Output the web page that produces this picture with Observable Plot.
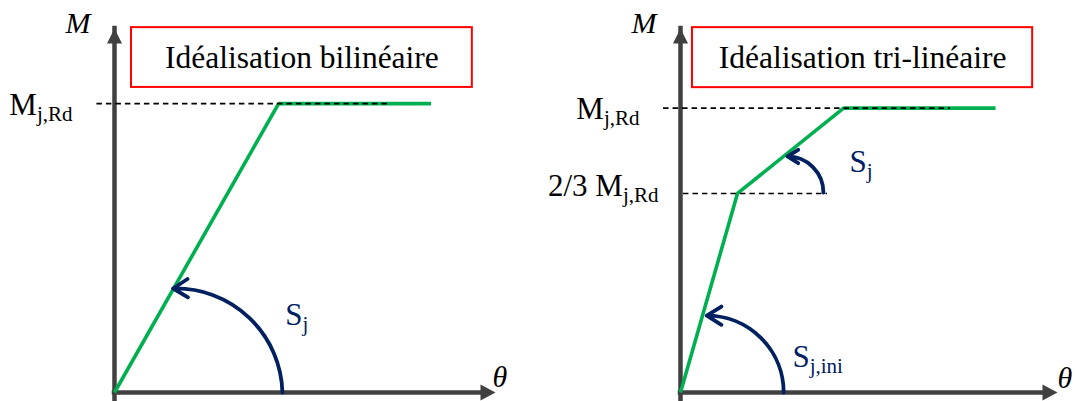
<!DOCTYPE html>
<html><head><meta charset="utf-8">
<script src="https://cdn.jsdelivr.net/npm/d3@7"></script>
<script src="https://cdn.jsdelivr.net/npm/@observablehq/plot@0.6"></script>
<style>
html,body{margin:0;padding:0;background:#fff;}
#chart{position:relative;width:1075px;height:401px;overflow:hidden;background:#fff;}
#chart svg{position:absolute;top:0;overflow:visible;}
#chart svg text{font-family:"Liberation Serif","Times New Roman",Times,serif !important;}
</style></head><body><div id="chart"></div>
<script>
// ---------------- data ----------------
const panelTitles = ["Idéalisation bilinéaire", "Idéalisation tri-linéaire"];
const axisNameY = "M";
const axisNameX = "θ";

// bilinear idealisation (θ, M / Mj,Rd)
const biTheta  = [0, 0.56, 1.08];
const biMoment = [0, 1, 1];

// tri-linear idealisation
const triTheta  = [0, 0.195, 0.558, 1.078];
const triMoment = [0, 0.70, 1, 1];

// dashed reference levels
const biLevelMoment = [1];
const biLevelFrom   = [-0.06];
const biLevelTo     = [0.935];
const biLevelMain   = ["M"];
const biLevelSub    = ["j,Rd"];

const triLevelMoment = [1, 0.70];
const triLevelFrom   = [-0.058, 0.01];
const triLevelTo     = [0.924, 0.503];
const triLevelMain   = ["M", "2/3 M"];
const triLevelSub    = ["j,Rd", "j,Rd"];

// stiffness arcs: start (θ, M) -> tip (θ, M) on the curve
const biArcStart  = [[0.573, 0]];
const biArcEnd    = [[0.20, 0.36]];
const biArcMain   = ["S"];
const biArcSub    = ["j"];

const triArcStart = [[0.353, 0], [0.489, 0.703]];
const triArcEnd   = [[0.09, 0.27], [0.366, 0.83]];
const triArcMain  = ["S", "S"];
const triArcSub   = ["j,ini", "j"];

// ---------------- style ----------------
const SERIF = "Liberation Serif";
const MAIN = 31, SUB = 21;
const NAVY = "#002060", GREEN = "#00b050", AXIS = "#404040";

const ctx = document.createElement("canvas").getContext("2d");
function tw(s, size, style = "normal") { ctx.font = `${style} ${size}px "Liberation Serif", serif`; return ctx.measureText(s).width; }

function subText(x, y, main, sub, {end = false, dx = 0, dy = 0, fill = "black", subDy = 6} = {}) {
  const wm = tw(main, MAIN), ws = tw(sub, SUB);
  const mdx = end ? dx - ws - wm : dx;
  const sdx = mdx + wm;
  const common = {x: [x], y: [y], text: d => d, textAnchor: "start", lineAnchor: "bottom", fontFamily: SERIF, fill};
  return [
    Plot.text([main], {...common, dx: mdx, dy, fontSize: MAIN}),
    Plot.text([sub], {...common, dx: sdx, dy: dy + subDy, fontSize: SUB})
  ];
}

const upHead = {draw(c) { c.moveTo(0, 0); c.lineTo(7.5, 15); c.lineTo(-7.5, 15); c.closePath(); }};
const rightHead = {draw(c) { c.moveTo(0, 0); c.lineTo(-15, -8); c.lineTo(-15, 8); c.closePath(); }};

function panel(cfg) {
  const {svgWidth, marginLeft, axisLen, xMax, yMax, theta, moment, levels, arcs, title, box, headLens, labelPos, levelDy, thetaOff} = cfg;
  const pts = theta.map((t, i) => ({t, m: moment[i]}));
  const marks = [
    Plot.rect([box], {x1: "x1", x2: "x2", y1: "y1", y2: "y2", fill: "white", stroke: "#ff0000", strokeWidth: 2}),
    Plot.text([title], {x: [(box.x1 + box.x2) / 2], y: [(box.y1 + box.y2) / 2], text: d => d, lineAnchor: "middle", fontSize: 31.5, fontFamily: SERIF, fill: "black"}),
    // axes
    Plot.ruleX([0], {y1: 0, y2: yMax, insetTop: 10, stroke: AXIS, strokeWidth: 4.5, strokeLinecap: "square"}),
    Plot.ruleY([0], {x1: 0, x2: xMax, insetRight: 10, stroke: AXIS, strokeWidth: 4.5, strokeLinecap: "square"}),
    Plot.dot([0], {x: [0], y: [yMax], symbol: upHead, fill: AXIS, stroke: "none"}),
    Plot.dot([0], {x: [xMax], y: [0], symbol: rightHead, fill: AXIS, stroke: "none"}),
    // curve
    Plot.line(pts, {x: "t", y: "m", stroke: GREEN, strokeWidth: 3.6, strokeLinejoin: "miter", strokeLinecap: "butt"}),
    // dashed levels
    Plot.ruleY(levels.m.map((m, i) => i), {y: i => levels.m[i], x1: i => levels.from[i], x2: i => levels.to[i], stroke: "black", strokeWidth: 1.6, strokeDasharray: "5.5,4"}),
    // stiffness arcs
    ...arcs.start.map((s, i) => Plot.arrow([i], {x1: [s[0]], y1: [s[1]], x2: [arcs.end[i][0]], y2: [arcs.end[i][1]], bend: -45, stroke: NAVY, strokeWidth: 3.8, headLength: headLens[i], headAngle: 64, strokeLinejoin: "round"})),
    // axis names
    Plot.text([axisNameY], {x: [0], y: [yMax], text: d => d, textAnchor: "end", lineAnchor: "bottom", dx: -24, dy: 4, fontSize: 30, fontStyle: "italic", fontFamily: SERIF, fill: "black"}),
    Plot.text([axisNameX], {x: [xMax], y: [0], text: d => d, textAnchor: "start", lineAnchor: "bottom", dx: thetaOff[0], dy: thetaOff[1], fontSize: 30, fontStyle: "italic", fontFamily: SERIF, fill: "black"}),
    // level labels
    ...levels.m.flatMap((m, i) => subText(0, m, levels.main[i], levels.sub[i], {end: true, dx: levels.dx[i], dy: levelDy[i]})),
    // stiffness labels
    ...arcs.main.flatMap((t, i) => subText(labelPos[i][0], labelPos[i][1], t, arcs.sub[i], {fill: NAVY}))
  ];
  return Plot.plot({
    width: svgWidth, height: 401,
    marginLeft, marginRight: svgWidth - marginLeft - axisLen, marginTop: 28, marginBottom: 9,
    x: {domain: [0, xMax], axis: null},
    y: {domain: [0, yMax], axis: null},
    style: {background: "transparent", overflow: "visible", fontFamily: "Liberation Serif"},
    marks
  });
}

const left = panel({
  svgWidth: 540, marginLeft: 114, axisLen: 381, xMax: 1.3, yMax: 1.26,
  theta: biTheta, moment: biMoment,
  levels: {m: biLevelMoment, from: biLevelFrom, to: biLevelTo, main: biLevelMain, sub: biLevelSub, dx: [-42]},
  levelDy: [11],
  arcs: {start: biArcStart, end: biArcEnd, main: biArcMain, sub: biArcSub},
  headLens: [6.8],
  labelPos: [[0.583, 0.232]],
  title: panelTitles[0],
  box: {x1: 0.058, x2: 1.221, y1: 1.056, y2: 1.263},
  thetaOff: [-3, -6]
});
const right = panel({
  svgWidth: 535, marginLeft: 140, axisLen: 377, xMax: 1.29, yMax: 1.28,
  theta: triTheta, moment: triMoment,
  levels: {m: triLevelMoment, from: triLevelFrom, to: triLevelTo, main: triLevelMain, sub: triLevelSub, dx: [-41, -22]},
  levelDy: [11, 3],
  arcs: {start: triArcStart, end: triArcEnd, main: triArcMain, sub: triArcSub},
  headLens: [6.8, 5],
  labelPos: [[0.383, 0.088], [0.578, 0.774]],
  title: panelTitles[1],
  box: {x1: 0.041, x2: 1.205, y1: 1.072, y2: 1.283},
  thetaOff: [0, -5]
});
left.style.left = "0px";
right.style.left = "540px";
const chart = document.getElementById("chart");
chart.append(left, right);
</script>
</body></html>
